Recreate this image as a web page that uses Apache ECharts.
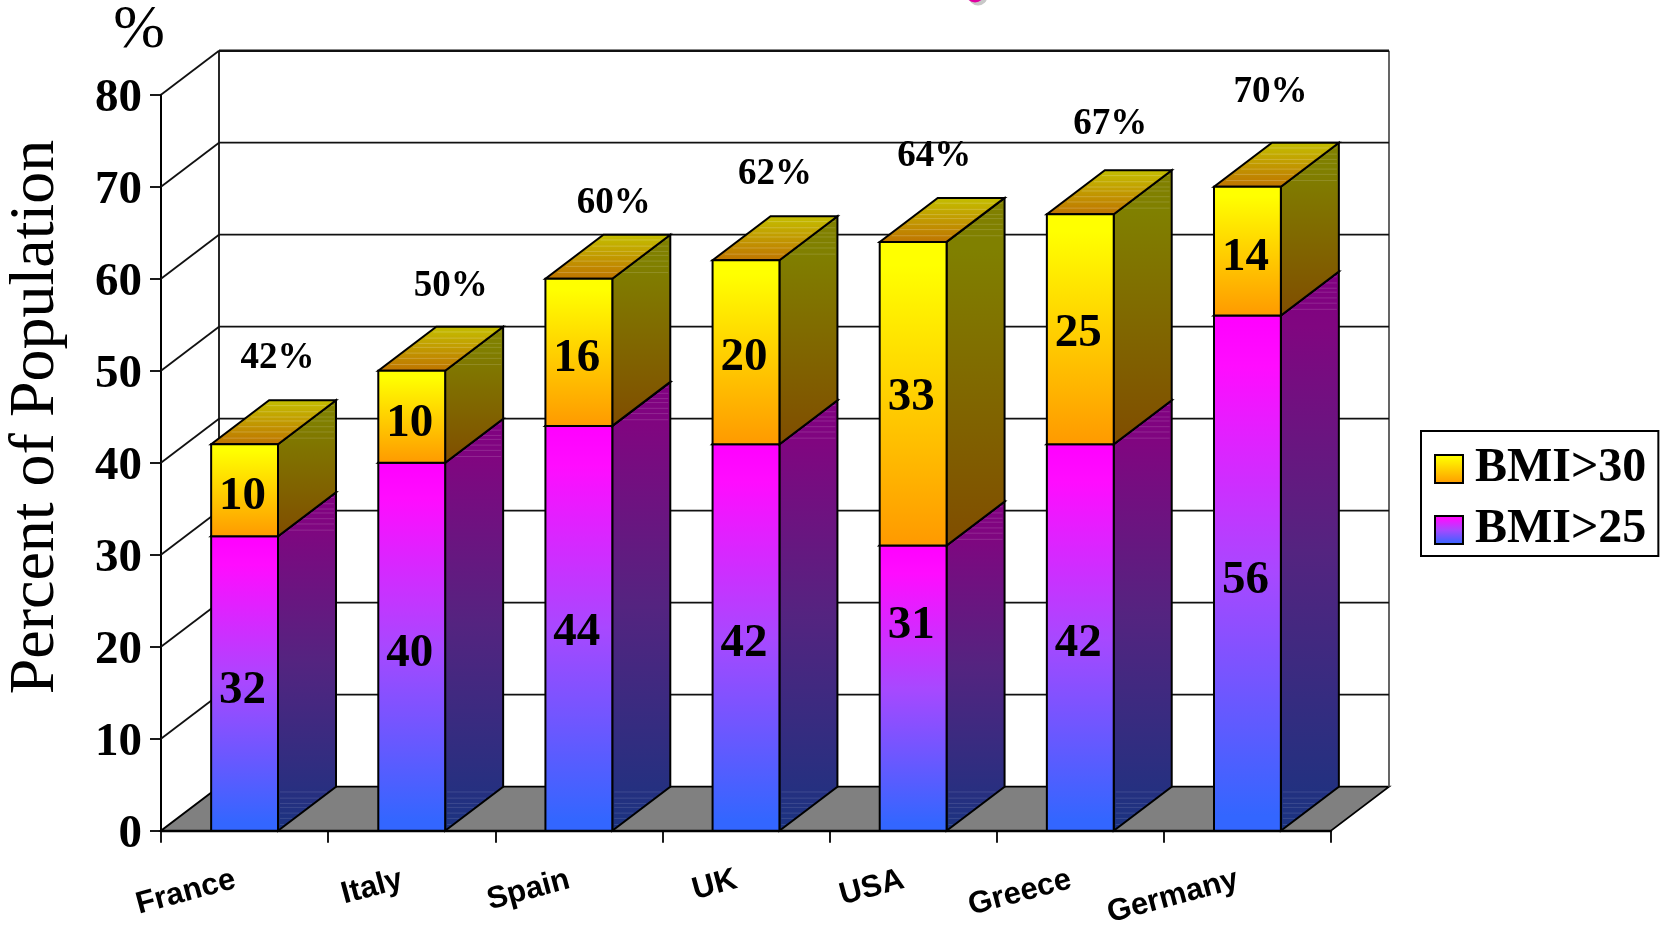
<!DOCTYPE html>
<html>
<head>
<meta charset="utf-8">
<style>html,body{margin:0;padding:0;background:#fff}#c{width:1661px;height:929px}</style>
<script src="https://cdn.jsdelivr.net/npm/echarts@6/dist/echarts.min.js"></script>
</head>
<body>
<div id="c"></div>
<script>
const categories = ['France', 'Italy', 'Spain', 'UK', 'USA', 'Greece', 'Germany'];
const bmi25 = [32, 40, 44, 42, 31, 42, 56];
const bmi30 = [10, 10, 16, 20, 33, 25, 14];
const totalLabels = ['42%', '50%', '60%', '62%', '64%', '67%', '70%'];
const totalValues = [42, 50, 60, 62, 64, 67, 70];
const yTicks = [0, 10, 20, 30, 40, 50, 60, 70, 80];

// layout of the drawing (not data)
const DX = 58, DY = -44;
const totalOffsets = [[33, -42], [39, -40], [35, -31], [29, -42], [21, -41], [30, -46], [23, -50]];
const labelShift25 = [7, 7, 5, 6, -62, 6, 8];
const labelShift30 = [7, 7, 7, 6, 4, 5, 7];
const stripes = [0.12, 0.26, 0.38, 0.47, 0.6, 0.72, 0.86];
const serif = '"Liberation Serif","Times New Roman",serif';
const gradStops = stops => new echarts.graphic.LinearGradient(0, 0, 0, 1,
  stops.map(s => ({offset: s[0], color: s[1]})));
const front25 = [[0, '#ff00ff'], [0.1, '#ff0cff'], [0.5, '#a848ff'], [0.97, '#3366ff'], [1, '#3366ff']];
const front30 = [[0, '#ffff00'], [0.08, '#ffff00'], [1, '#ff9900']];
const side25 = [[0, '#800080'], [0.1, '#800680'], [0.5, '#542480'], [1, '#1a3380']];
const side30 = [[0, '#808000'], [0.15, '#808000'], [1, '#804d00']];

function wallItem(params, api) {
  const p = api.coord([0, api.value(0)]);
  const x0 = params.coordSys.x, x1 = x0 + params.coordSys.width, y = p[1];
  const line = (a, b, c, d, w) => ({type: 'line', shape: {x1: a, y1: b, x2: c, y2: d},
    style: {stroke: '#111', lineWidth: w || 1.8}, silent: true});
  const children = [];
  const v = api.value(0);
  if (v > 0) {
    children.push(line(x0, y, x0 + DX, y + DY));
    children.push(line(x0 + DX, y + DY, x1 + DX, y + DY, v === 80 ? 2.4 : 1.8));
  } else {
    children.push({type: 'polygon', shape: {points: [[x0, y], [x1, y], [x1 + DX, y + DY], [x0 + DX, y + DY]]},
      style: {fill: '#808080', stroke: '#000', lineWidth: 1.8}, silent: true});
    const top = api.coord([0, 80])[1] + DY;
    children.push(line(x0 + DX, top, x0 + DX, y + DY, 1.8));
    children.push({type: 'line', shape: {x1: x1 + DX, y1: top, x2: x1 + DX, y2: y + DY},
      style: {stroke: '#555', lineWidth: 1.8}, silent: true});
  }
  return {type: 'group', children};
}

function barRenderer(frontStops, sideStops, topFront, topBack, labelShift) {
  return function (params, api) {
    const i = api.value(0), lo = api.value(1), hi = api.value(2);
    const c = api.coord([i, 0])[0], band = api.size([1, 0])[0];
    const w = band * 0.4, L = c - w / 2, R = c + w / 2;
    const yb = api.coord([i, lo])[1], yt = api.coord([i, hi])[1];
    const black = {stroke: '#000', lineWidth: 2};
    const kids = [];
    kids.push({type: 'polygon', shape: {points: [[R, yb], [R + DX, yb + DY], [R + DX, yt + DY], [R, yt]]},
      style: Object.assign({fill: gradStops(sideStops)}, black), silent: true});
    kids.push({type: 'polygon', shape: {points: [[L, yt], [R, yt], [R + DX, yt + DY], [L + DX, yt + DY]]},
      style: Object.assign({fill: new echarts.graphic.LinearGradient(0, 1, 0, 0, [
        {offset: 0, color: topFront}, {offset: 1, color: topBack}])}, black), silent: true});
    stripes.forEach(t => {
      const sy = yt + DY - DY * t, off = DX * (1 - t);
      kids.push({type: 'line', shape: {x1: L + off + 4, y1: sy, x2: R + off - 3, y2: sy},
        style: {stroke: 'rgba(255,255,255,0.2)', lineWidth: 1}, silent: true});
      kids.push({type: 'line', shape: {x1: R + off + 2, y1: sy, x2: R + DX - 2, y2: sy},
        style: {stroke: 'rgba(255,255,255,0.14)', lineWidth: 1}, silent: true});
      if (lo === 0) {
        const by = yb + DY - DY * t;
        kids.push({type: 'line', shape: {x1: R + 2, y1: by, x2: R + off - 2, y2: by},
          style: {stroke: 'rgba(255,255,255,0.12)', lineWidth: 1}, silent: true});
      }
    });
    kids.push({type: 'rect', shape: {x: L, y: yt, width: w, height: yb - yt},
      style: Object.assign({fill: gradStops(frontStops)}, black), silent: true});
    kids.push({type: 'text', x: c - 2, y: (yt + yb) / 2 + labelShift[i], silent: true,
      style: {text: String(hi - lo), font: 'bold 47px ' + serif, fill: '#000', align: 'center', verticalAlign: 'middle'}});
    return {type: 'group', children: kids};
  };
}

function totalItem(params, api) {
  const i = api.value(0);
  const o = totalOffsets[i];
  const p = api.coord([i, api.value(1)]);
  return {type: 'text', x: p[0] + o[0], y: p[1] + DY + o[1], silent: true,
    style: {text: totalLabels[i], font: 'bold 37px ' + serif, fill: '#000', align: 'center', verticalAlign: 'middle'}};
}

const data25 = categories.map((c, i) => [i, 0, bmi25[i]]);
const data30 = categories.map((c, i) => [i, bmi25[i], bmi25[i] + bmi30[i]]);

const chart = echarts.init(document.getElementById('c'), null, {renderer: 'canvas'});
chart.setOption({
  animation: false,
  backgroundColor: '#fff',
  grid: {left: 161, width: 1170, top: 94.7, height: 736, containLabel: false, outerBoundsMode: 'none'},
  xAxis: {
    type: 'category', data: categories, boundaryGap: true,
    axisLine: {show: true, lineStyle: {color: '#000', width: 2.4}},
    axisTick: {show: true, length: 12, alignWithLabel: false, interval: 0, lineStyle: {color: '#000', width: 1.8}},
    splitLine: {show: false},
    axisLabel: {interval: 0, rotate: 15, margin: 46, padding: [0, 10, 0, 0],
      fontFamily: '"Liberation Sans",Arial,sans-serif', fontWeight: 'bold', fontSize: 31, color: '#000'}
  },
  yAxis: {
    type: 'value', min: 0, max: 80, interval: 10,
    axisLine: {show: true, lineStyle: {color: '#000', width: 2}},
    axisTick: {show: true, length: 11, lineStyle: {color: '#000', width: 1.8}},
    splitLine: {show: false},
    axisLabel: {margin: 19, verticalAlign: 'top', lineHeight: 8, fontFamily: serif, fontWeight: 'bold', fontSize: 47, color: '#000'}
  },
  legend: {
    orient: 'vertical', left: 1421, top: 431, padding: [14, 12, 2, 13], itemGap: 13,
    itemWidth: 28, itemHeight: 28, icon: 'rect', borderColor: '#000', borderWidth: 2, backgroundColor: '#fff',
    data: ['BMI>30', 'BMI>25'], selectedMode: false,
    textStyle: {fontFamily: serif, fontWeight: 'bold', fontSize: 48, color: '#000', padding: [0, 0, 0, 7]}
  },
  series: [
    {type: 'custom', name: 'walls', coordinateSystem: 'cartesian2d', clip: false, z: 1,
      data: yTicks.map(v => [v]), encode: {x: -1, y: 0}, renderItem: wallItem},
    {type: 'custom', name: 'BMI>25', coordinateSystem: 'cartesian2d', clip: false, z: 3,
      data: data25, encode: {x: 0, y: [1, 2]},
      itemStyle: {color: gradStops(front25), borderColor: '#000', borderWidth: 2},
      renderItem: barRenderer(front25, side25, '#bf73ff', '#bf00bf', labelShift25)},
    {type: 'custom', name: 'BMI>30', coordinateSystem: 'cartesian2d', clip: false, z: 4,
      data: data30, encode: {x: 0, y: [1, 2]},
      itemStyle: {color: gradStops(front30), borderColor: '#000', borderWidth: 2},
      renderItem: barRenderer(front30, side30, '#bf7300', '#c4c000', labelShift30)},
    {type: 'custom', name: 'totals', coordinateSystem: 'cartesian2d', clip: false, z: 5,
      data: categories.map((c, i) => [i, totalValues[i]]), encode: {x: 0, y: 1}, renderItem: totalItem}
  ],
  graphic: [
    {type: 'text', x: 36, y: 417, rotation: Math.PI / 2, silent: true,
      style: {text: 'Percent of Population', font: '64px ' + serif, fill: '#000', align: 'center', verticalAlign: 'middle'}},
    {type: 'text', x: 139, y: 31, silent: true,
      style: {text: '%', font: '62px ' + serif, fill: '#000', align: 'center', verticalAlign: 'middle'}},
    {type: 'circle', shape: {cx: 978, cy: -4, r: 9.5}, style: {fill: '#c8c8c8'}, silent: true},
    {type: 'circle', shape: {cx: 975, cy: -7, r: 9.5}, style: {fill: '#e000a0'}, silent: true}
  ]
});
</script>
</body>
</html>
